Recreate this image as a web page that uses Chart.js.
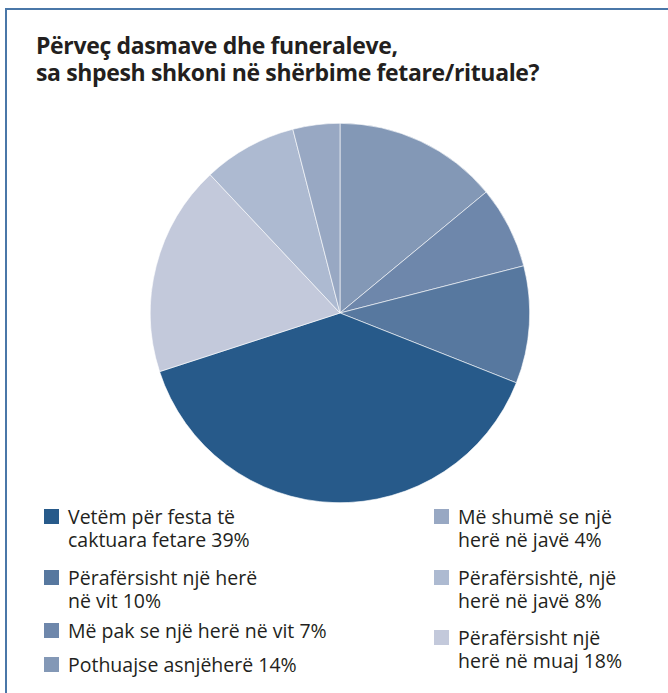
<!DOCTYPE html>
<html>
<head>
<meta charset="utf-8">
<script src="https://cdn.jsdelivr.net/npm/chart.js@4"></script>
<style>
  body { margin: 0; background: #fff; font-family: "Open Sans", sans-serif; color: #231f20; overflow: hidden; }
  #frame {
    position: absolute; left: 5px; top: 8px; width: 700px; height: 700px;
    border: 2px solid #4a77a8; border-bottom: none; border-right: none; box-sizing: border-box;
  }
  #title {
    position: absolute; left: 36px; top: 32px; margin: 0;
    font-size: 23px; font-weight: bold; line-height: 27px; letter-spacing: -0.35px;
  }
  #pieBox { position: absolute; left: 150px; top: 123px; width: 380px; height: 380px; }
  .item { position: absolute; font-size: 19.5px; line-height: 23px; white-space: nowrap; }
  .swatch { position: absolute; left: -24px; top: 4px; width: 15px; height: 15px; }
</style>
</head>
<body>
<div id="frame"></div>
<h1 id="title">Përveç dasmave dhe funeraleve,<br>sa shpesh shkoni në shërbime fetare/rituale?</h1>
<div id="pieBox"><canvas id="pie"></canvas></div>
<div id="legend"></div>
<script>
// slices in drawing order, clockwise from 12 o'clock
const labels = [
    'Pothuajse asnjëherë',
    'Më pak se një herë në vit',
    'Përafërsisht një herë në vit',
    'Vetëm për festa të caktuara fetare',
    'Përafërsisht një herë në muaj',
    'Përafërsishtë, një herë në javë',
    'Më shumë se një herë në javë'
];
const values = [14, 7, 10, 39, 18, 8, 4];
const colors = ['#8398b6', '#6e87ab', '#57789f', '#275a8a', '#c3c9db', '#adbad1', '#98a8c3'];

// legend text as printed (line breaks), keyed by slice index
const legendLines = [
    ['Pothuajse asnjëherë 14%'],
    ['Më pak se një herë në vit 7%'],
    ['Përafërsisht një herë', 'në vit 10%'],
    ['Vetëm për festa të', 'caktuara fetare 39%'],
    ['Përafërsisht një', 'herë në muaj 18%'],
    ['Përafërsishtë, një', 'herë në javë 8%'],
    ['Më shumë se një', 'herë në javë 4%']
];
const leftOrder = [3, 2, 1, 0];
const leftTops = [0, 61, 114, 148];
const rightOrder = [6, 5, 4];
const rightTops = [0, 61, 121];

function buildLegend(order, tops, x) {
    const legend = document.getElementById('legend');
    order.forEach(function(idx, i) {
        const div = document.createElement('div');
        div.className = 'item';
        div.style.left = x + 'px';
        div.style.top = (505 + tops[i]) + 'px';
        div.innerHTML = '<span class="swatch" style="background:' + colors[idx] + '"></span>' +
            legendLines[idx].join('<br>');
        legend.appendChild(div);
    });
}
buildLegend(leftOrder, leftTops, 68);
buildLegend(rightOrder, rightTops, 458);

const pieChart = new Chart(document.getElementById('pie').getContext('2d'), {
    type: 'pie',
    data: {
        labels: labels,
        datasets: [{
            data: values,
            backgroundColor: colors,
            borderColor: '#ffffff',
            borderWidth: 0.6
        }]
    },
    options: {
        responsive: true,
        maintainAspectRatio: false,
        animation: false,
        layout: { padding: 0 },
        plugins: {
            legend: { display: false },
            tooltip: { enabled: false }
        }
    }
});
</script>
</body>
</html>
